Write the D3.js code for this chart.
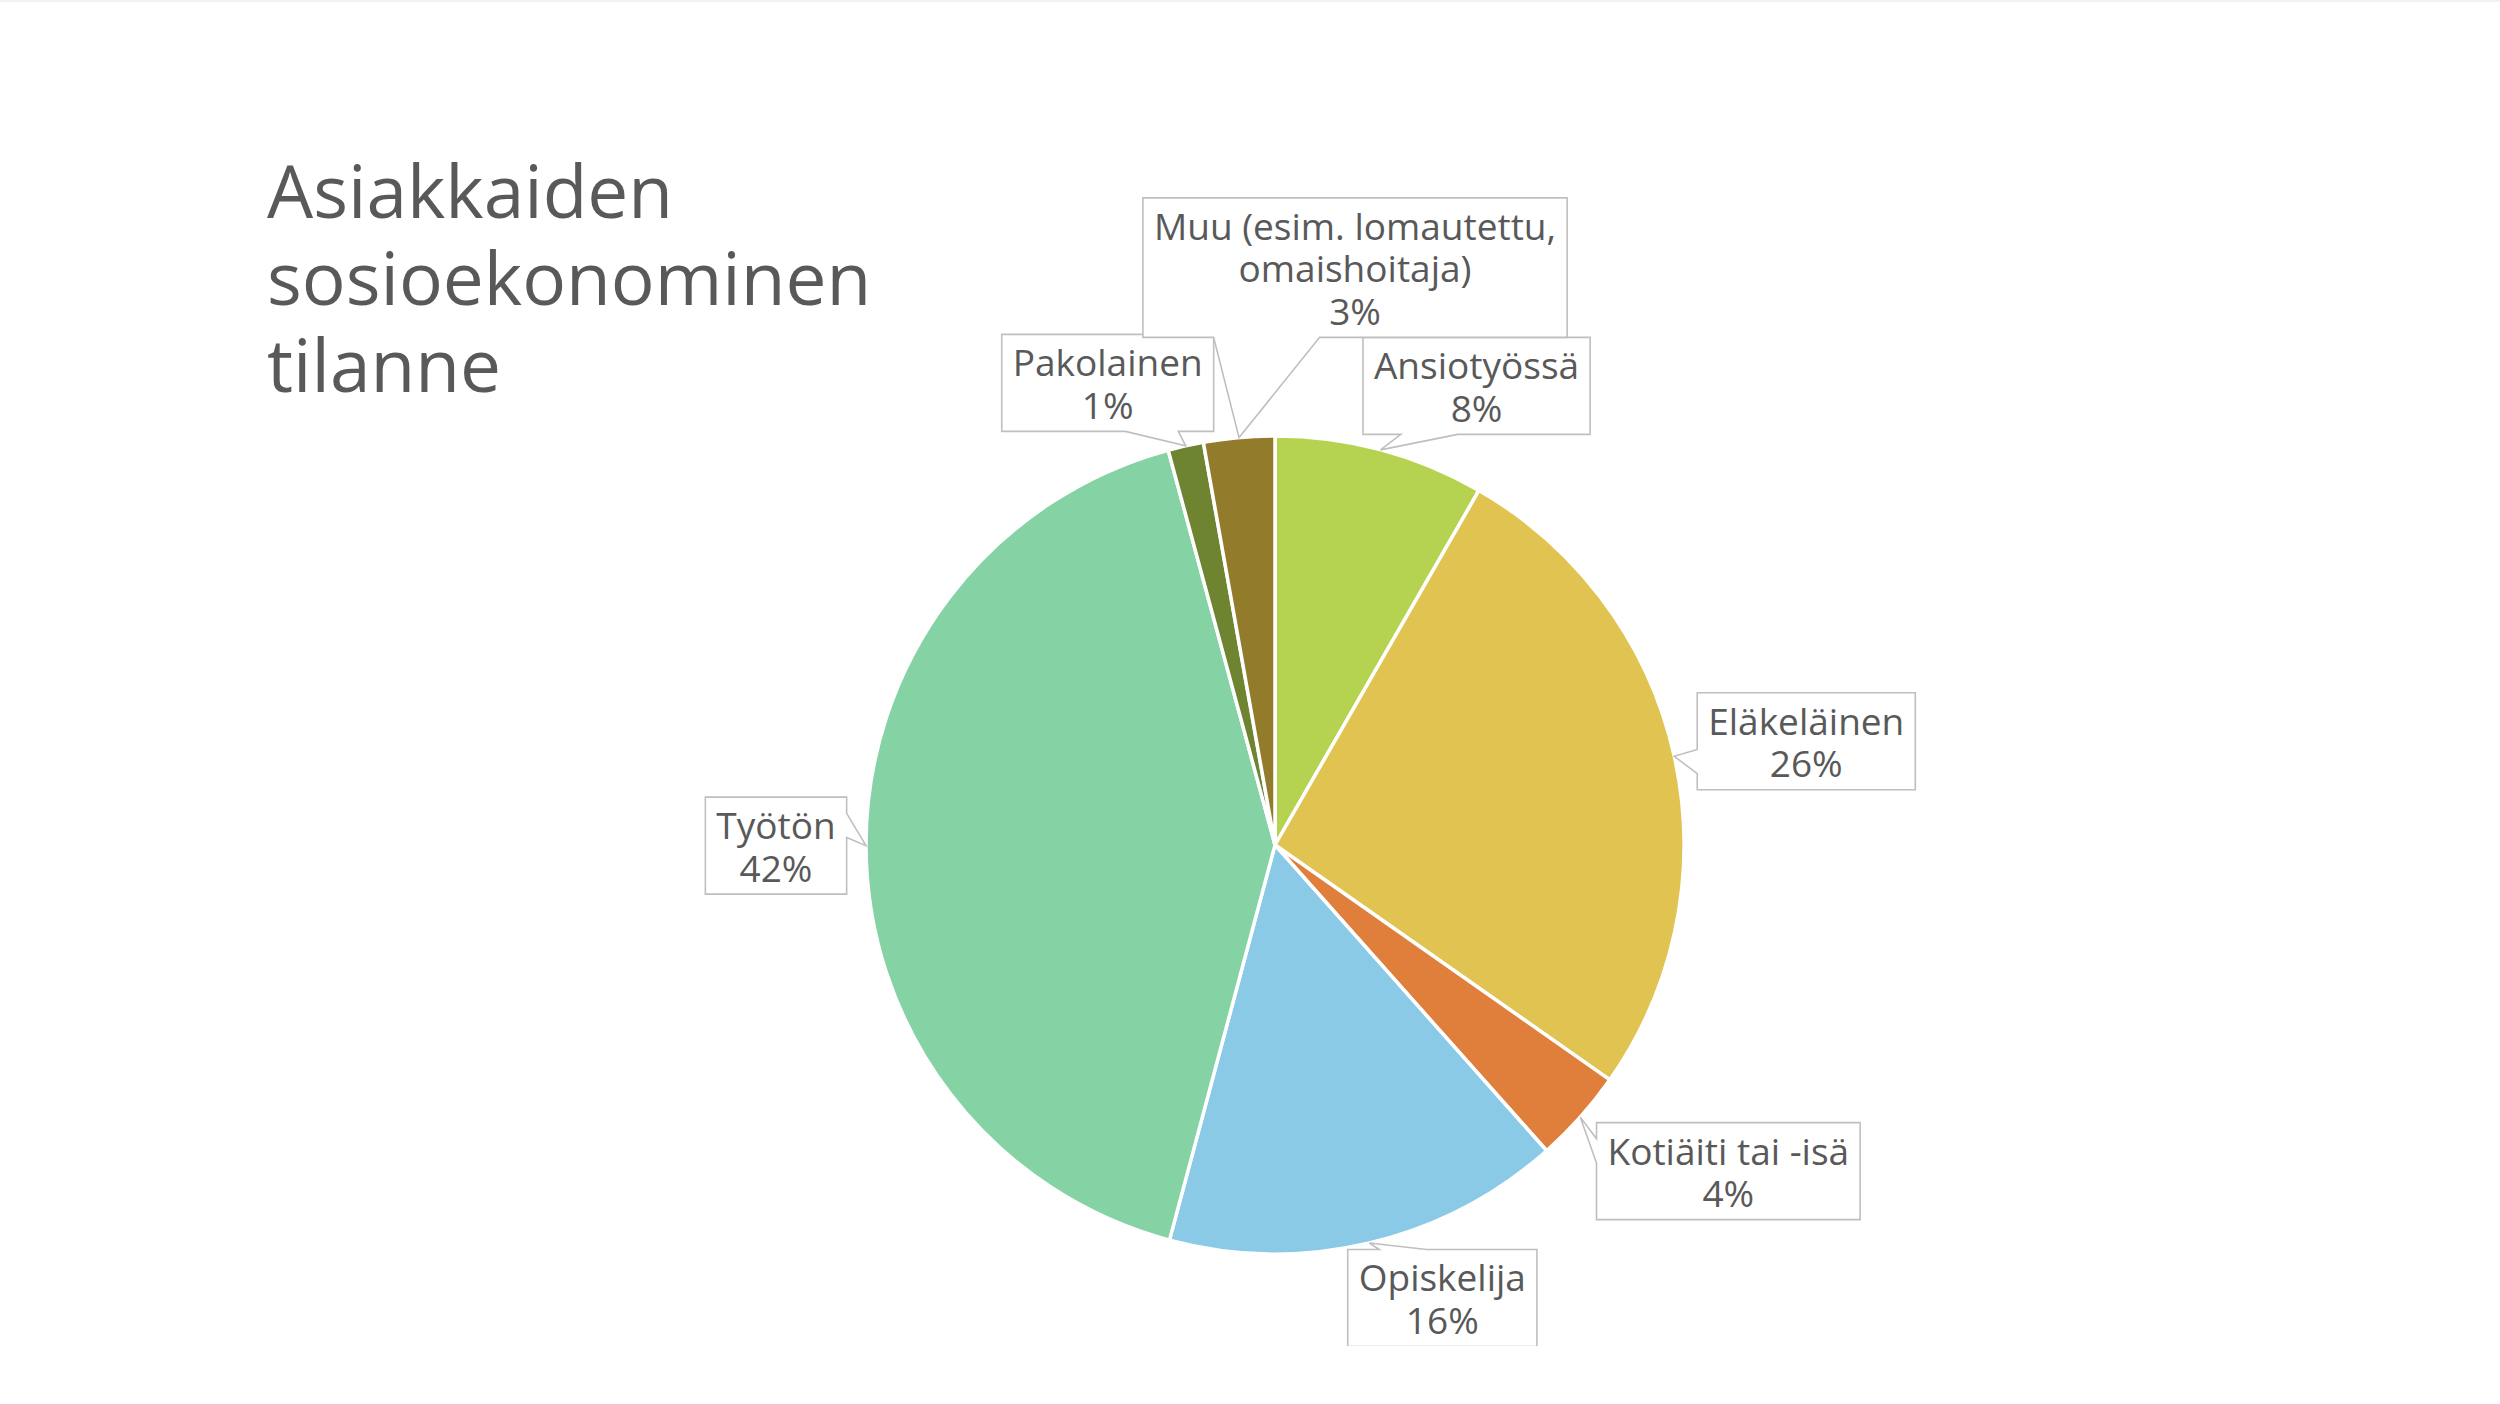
<!DOCTYPE html>
<html>
<head>
<meta charset="utf-8">
<script src="https://cdn.jsdelivr.net/npm/d3@7"></script>
<style>
  body { margin: 0; background: #fff; }
  svg { display: block; }
</style>
</head>
<body>
<div id="chart"></div>
<script>
// data
const categories = ["Ansiotyössä", "Eläkeläinen", "Kotiäiti tai -isä", "Opiskelija", "Työtön", "Pakolainen", "Muu (esim. lomautettu, omaishoitaja)"];
const values = [8.3, 26.4, 3.7, 15.7, 41.6, 1.4, 2.8];
const colors = ["#B5D350", "#E0C350", "#E07F3B", "#8ACAE7", "#85D3A4", "#6E8431", "#937B2C"];
const titleLines = ["Asiakkaiden", "sosioekonominen", "tilanne"];

// where each label box sits, relative to its pointer tip
const labelOffsets = [[96, -64], [132, -15], [148, 54], [73, 55], [-90, 0], [-78, -63], [116, -170]];

const width = 2500,
      height = 1404,
      cx = 1275, cy = 845,
      radius = 409,
      lineH = 42.5,
      textColor = "#595959";

const svg = d3.select("#chart")
    .append("svg")
    .attr("width", width)
    .attr("height", height)
    .attr("viewBox", [0, 0, width, height]);

// faint slide edge at the top
svg.append("rect")
    .attr("x", 0).attr("y", 0)
    .attr("width", width).attr("height", 2)
    .attr("fill", "#F2F2F2");

svg.append("clipPath")
    .attr("id", "plot-clip")
    .append("rect")
    .attr("x", 0).attr("y", 0)
    .attr("width", width).attr("height", 1346);

// title, one text element with a tspan per line
svg.append("text")
    .attr("font-family", "'Open Sans', sans-serif")
    .attr("font-size", 73)
    .attr("fill", textColor)
    .selectAll("tspan")
    .data(titleLines)
    .join("tspan")
    .attr("x", 267)
    .attr("y", (d, i) => 218 + i * 87)
    .text(d => d);

const total = d3.sum(values);
const data = categories.map((c, i) => ({ name: c, value: values[i], color: colors[i], off: labelOffsets[i] }));

const pie = d3.pie()
    .value(d => d.value)
    .sort(null);

const arc = d3.arc()
    .innerRadius(0)
    .outerRadius(radius);

const arcs = pie(data);

const chart = svg.append("g")
    .attr("clip-path", "url(#plot-clip)");

chart.append("g")
    .attr("transform", `translate(${cx},${cy})`)
    .selectAll("path")
    .data(arcs)
    .join("path")
    .attr("d", arc)
    .attr("fill", d => d.data.color)
    .attr("stroke", "#fff")
    .attr("stroke-width", 3.5)
    .attr("stroke-linejoin", "round");

// word wrap for long category names
const measure = svg.append("text")
    .attr("font-family", "'Open Sans', sans-serif")
    .attr("font-size", 37)
    .attr("visibility", "hidden");

function textWidth(s) {
    measure.text(s);
    return measure.node().getComputedTextLength();
}

function wrap(s, maxW) {
    const words = s.split(" ");
    const lines = [];
    let cur = "";
    for (let w of words) {
        const test = cur ? cur + " " + w : w;
        if (cur && textWidth(test) > maxW) {
            lines.push(cur);
            cur = w;
        } else {
            cur = test;
        }
    }
    lines.push(cur);
    return lines;
}

// rectangle callout with a wedge pointing at (tx, ty), like Office's wedgeRectCallout
function calloutPath(x0, y0, w, h, tx, ty) {
    const x1 = x0 + w, y1 = y0 + h;
    const dxPos = tx - (x0 + w / 2), dyPos = ty - (y0 + h / 2);
    const xa = x0 + w * (dxPos > 0 ? 7 : 2) / 12, xb = x0 + w * (dxPos > 0 ? 10 : 5) / 12;
    const ya = y0 + h * (dyPos > 0 ? 7 : 2) / 12, yb = y0 + h * (dyPos > 0 ? 10 : 5) / 12;
    const p = d3.path();
    p.moveTo(x0, y0);
    const horiz = Math.abs(dxPos * h) > Math.abs(dyPos * w);
    const inside = tx >= x0 && tx <= x1 && ty >= y0 && ty <= y1;
    if (!inside && !horiz && dyPos < 0) { p.lineTo(xa, y0); p.lineTo(tx, ty); p.lineTo(xb, y0); }
    p.lineTo(x1, y0);
    if (!inside && horiz && dxPos > 0) { p.lineTo(x1, ya); p.lineTo(tx, ty); p.lineTo(x1, yb); }
    p.lineTo(x1, y1);
    if (!inside && !horiz && dyPos > 0) { p.lineTo(xb, y1); p.lineTo(tx, ty); p.lineTo(xa, y1); }
    p.lineTo(x0, y1);
    if (!inside && horiz && dxPos < 0) { p.lineTo(x0, yb); p.lineTo(tx, ty); p.lineTo(x0, ya); }
    p.closePath();
    return p.toString();
}

const labels = chart.append("g");

arcs.forEach(a => {
    const mid = (a.startAngle + a.endAngle) / 2;
    const tx = cx + radius * Math.sin(mid),
          ty = cy - radius * Math.cos(mid);
    const pct = Math.round(a.data.value / total * 100) + "%";
    const lines = wrap(a.data.name, 440).concat([pct]);
    const w = d3.max(lines, l => textWidth(l)) + 22,
          h = lines.length * lineH + 12;
    const bx = tx + a.data.off[0] - w / 2,
          by = ty + a.data.off[1] - h / 2;

    const g = labels.append("g");
    g.append("path")
        .attr("d", calloutPath(bx, by, w, h, tx, ty))
        .attr("fill", "#fff")
        .attr("stroke", "#BFBFBF")
        .attr("stroke-width", 1.6);

    g.append("text")
        .attr("text-anchor", "middle")
        .attr("font-family", "'Open Sans', sans-serif")
        .attr("font-size", 37)
        .attr("fill", textColor)
        .selectAll("tspan")
        .data(lines)
        .join("tspan")
        .attr("x", bx + w / 2)
        .attr("y", (d, i) => by + 42 + i * lineH)
        .text(d => d);
});

measure.remove();
</script>
</body>
</html>
